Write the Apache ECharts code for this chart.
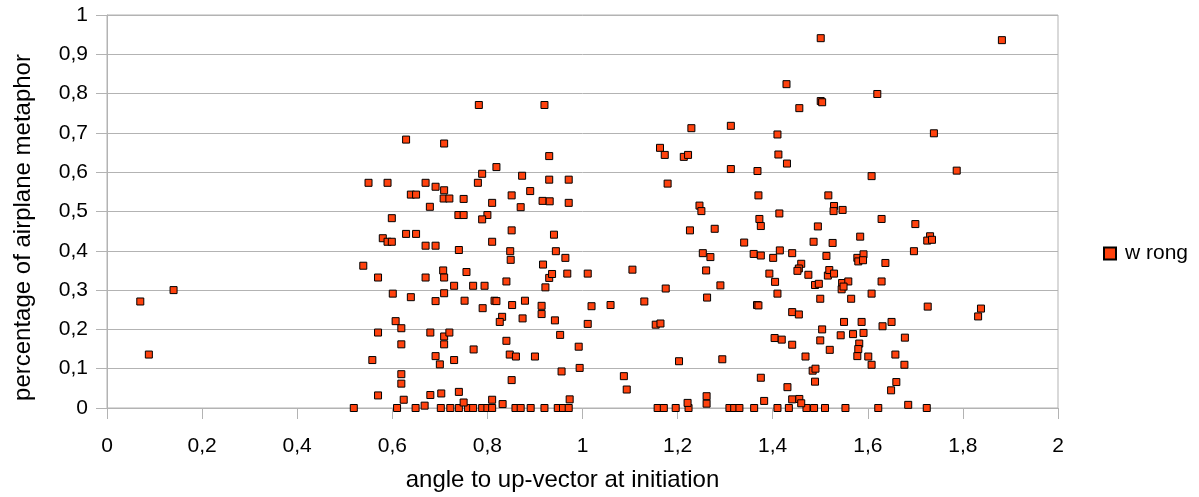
<!DOCTYPE html>
<html>
<head>
<meta charset="utf-8">
<script src="https://cdn.jsdelivr.net/npm/echarts@6/dist/echarts.min.js"></script>
<style>
  html, body { margin: 0; padding: 0; background: #ffffff; }
  #chart { width: 1199px; height: 497px; }
</style>
</head>
<body>
<div id="chart"></div>
<script>
// Angle to up-vector at initiation (x) vs. percentage of airplane metaphor (y)

// Ticks of both axes
const xTicks = [0, 0.2, 0.4, 0.6, 0.8, 1, 1.2, 1.4, 1.6, 1.8, 2];
const yTicks = [0, 0.1, 0.2, 0.3, 0.4, 0.5, 0.6, 0.7, 0.8, 0.9, 1];

const seriesName = 'w rong';

// Isolated trials with a small angle
const smallAngle = [
  [0.070, 0.271], [0.088, 0.136], [0.140, 0.300]
];

// Angles of the trials where the metaphor share was zero
const zeroShareAngles = [
  0.519, 0.610, 0.649, 0.702, 0.722, 0.740, 0.759, 0.770, 0.789, 0.800, 0.810,
  0.859, 0.870, 0.891, 0.920, 0.948, 0.959, 0.971, 1.158, 1.171, 1.196, 1.223,
  1.309, 1.319, 1.330, 1.361, 1.410, 1.434, 1.471, 1.487, 1.510, 1.553, 1.622, 1.724
];

// Trials with angles between 0.5 and 1.15
const midAngle = [
  [0.782, 0.771], [0.629, 0.683], [0.709, 0.673], [0.819, 0.613], [0.789, 0.596],
  [0.780, 0.573], [0.550, 0.573], [0.590, 0.573], [0.670, 0.573], [0.691, 0.563],
  [0.709, 0.554], [0.639, 0.543], [0.650, 0.543], [0.708, 0.533], [0.720, 0.533],
  [0.750, 0.532], [0.810, 0.522], [0.679, 0.512], [0.599, 0.483], [0.739, 0.491],
  [0.750, 0.491], [0.800, 0.491], [0.789, 0.480], [0.580, 0.432], [0.590, 0.423],
  [0.599, 0.423], [0.629, 0.443], [0.650, 0.443], [0.670, 0.413], [0.691, 0.413],
  [0.740, 0.402], [0.810, 0.423], [0.539, 0.362], [0.570, 0.332], [0.670, 0.332],
  [0.707, 0.350], [0.709, 0.332], [0.756, 0.346], [0.730, 0.311], [0.770, 0.311],
  [0.794, 0.311], [0.840, 0.322], [0.601, 0.291], [0.639, 0.282], [0.691, 0.272],
  [0.709, 0.292], [0.752, 0.273], [0.790, 0.254], [0.815, 0.273], [0.819, 0.272],
  [0.831, 0.232], [0.826, 0.219], [0.607, 0.221], [0.619, 0.203], [0.570, 0.192],
  [0.680, 0.192], [0.709, 0.182], [0.720, 0.192], [0.709, 0.162], [0.619, 0.162],
  [0.771, 0.149], [0.840, 0.171], [0.558, 0.122], [0.691, 0.132], [0.700, 0.111],
  [0.730, 0.122], [0.619, 0.086], [0.619, 0.062], [0.570, 0.032], [0.624, 0.021],
  [0.680, 0.033], [0.703, 0.037], [0.740, 0.041], [0.750, 0.014], [0.810, 0.021],
  [0.832, 0.010], [0.668, 0.006],
  [0.920, 0.771], [0.930, 0.641], [0.873, 0.591], [0.930, 0.581], [0.971, 0.581],
  [0.851, 0.541], [0.890, 0.552], [0.916, 0.527], [0.931, 0.526], [0.971, 0.522],
  [0.870, 0.511], [0.851, 0.452], [0.940, 0.441], [0.848, 0.399], [0.849, 0.377],
  [0.944, 0.399], [0.964, 0.382], [0.917, 0.365], [0.930, 0.331], [0.936, 0.341],
  [0.968, 0.342], [1.011, 0.342], [1.105, 0.352], [0.922, 0.307], [0.852, 0.262],
  [0.879, 0.273], [0.914, 0.260], [0.914, 0.239], [1.019, 0.259], [1.059, 0.262],
  [1.130, 0.271], [0.874, 0.228], [0.942, 0.223], [1.011, 0.214], [0.953, 0.186],
  [0.992, 0.156], [0.847, 0.136], [0.860, 0.131], [0.900, 0.131], [0.956, 0.093],
  [0.994, 0.102], [1.087, 0.081], [1.093, 0.047], [0.851, 0.071], [0.973, 0.022]
];

// Trials with angles above 1.15
const highAngle = [
  [1.163, 0.662], [1.173, 0.644], [1.179, 0.571], [1.175, 0.304], [1.154, 0.212],
  [1.164, 0.215],
  [1.501, 0.941], [1.882, 0.936], [1.429, 0.824], [1.620, 0.799],
  [1.456, 0.763], [1.501, 0.781], [1.504, 0.778], [1.229, 0.712], [1.312, 0.718],
  [1.410, 0.696], [1.213, 0.639], [1.222, 0.644], [1.412, 0.645], [1.430, 0.622],
  [1.312, 0.608], [1.368, 0.603], [1.370, 0.541], [1.517, 0.541], [1.246, 0.515],
  [1.250, 0.501], [1.414, 0.495], [1.372, 0.481], [1.375, 0.463], [1.495, 0.462],
  [1.226, 0.452], [1.278, 0.456], [1.340, 0.421], [1.486, 0.423], [1.253, 0.394],
  [1.269, 0.384], [1.360, 0.392], [1.375, 0.388], [1.401, 0.382], [1.415, 0.401],
  [1.441, 0.394], [1.513, 0.387], [1.260, 0.350], [1.460, 0.367], [1.455, 0.355],
  [1.452, 0.349], [1.393, 0.342], [1.405, 0.321], [1.475, 0.339], [1.489, 0.313],
  [1.497, 0.316], [1.516, 0.337], [1.519, 0.351], [1.290, 0.312], [1.262, 0.281],
  [1.410, 0.291], [1.367, 0.262], [1.370, 0.261], [1.441, 0.244], [1.455, 0.238],
  [1.500, 0.278], [1.504, 0.200], [1.404, 0.178], [1.419, 0.174], [1.441, 0.161],
  [1.500, 0.172], [1.520, 0.148], [1.203, 0.119], [1.294, 0.124], [1.469, 0.131],
  [1.484, 0.095], [1.490, 0.100], [1.375, 0.077], [1.489, 0.067], [1.431, 0.053],
  [1.261, 0.030], [1.261, 0.011], [1.221, 0.013], [1.382, 0.018], [1.441, 0.022],
  [1.456, 0.023], [1.460, 0.012],
  [1.739, 0.699], [1.608, 0.590], [1.787, 0.604], [1.529, 0.514], [1.528, 0.501],
  [1.547, 0.504], [1.629, 0.481], [1.700, 0.468], [1.584, 0.436], [1.526, 0.420],
  [1.731, 0.437], [1.725, 0.426], [1.735, 0.428], [1.697, 0.399], [1.578, 0.382],
  [1.580, 0.373], [1.591, 0.391], [1.590, 0.376], [1.637, 0.369], [1.529, 0.342],
  [1.546, 0.318], [1.559, 0.322], [1.545, 0.302], [1.549, 0.309], [1.629, 0.322],
  [1.608, 0.291], [1.565, 0.278], [1.726, 0.258], [1.838, 0.253], [1.832, 0.233],
  [1.550, 0.219], [1.587, 0.219], [1.631, 0.208], [1.650, 0.219], [1.543, 0.185],
  [1.569, 0.188], [1.591, 0.191], [1.678, 0.179], [1.582, 0.164], [1.580, 0.150],
  [1.578, 0.132], [1.601, 0.131], [1.608, 0.110], [1.658, 0.136], [1.677, 0.110],
  [1.660, 0.066], [1.649, 0.045], [1.685, 0.008]
];

const points = []
  .concat(smallAngle)
  .concat(zeroShareAngles.map(a => [a, 0]))
  .concat(midAngle)
  .concat(highAngle);

const FONT = '"Liberation Sans", Arial, sans-serif';
const GRAY = '#b3b3b3';
const decimalComma = v => String(+(+v).toFixed(2)).replace('.', ',');

const chart = echarts.init(document.getElementById('chart'), null, { renderer: 'canvas' });

chart.setOption({
  animation: false,
  backgroundColor: '#ffffff',
  textStyle: { fontFamily: FONT },
  grid: {
    left: 107, right: 141, top: 15, bottom: 87,
    show: true, borderColor: GRAY, borderWidth: 1, backgroundColor: 'transparent'
  },
  legend: {
    data: [seriesName],
    orient: 'vertical',
    left: 1098, top: 238,
    icon: 'rect',
    itemWidth: 12, itemHeight: 12,
    textStyle: { fontFamily: FONT, fontSize: 21, color: '#000', padding: [0, 0, 0, 4] }
  },
  xAxis: {
    type: 'value',
    min: xTicks[0], max: xTicks[xTicks.length - 1], interval: xTicks[1] - xTicks[0],
    name: 'angle to up-vector at initiation',
    nameLocation: 'middle', nameGap: 60,
    nameTextStyle: { fontFamily: FONT, fontSize: 24, color: '#000', padding: [0, 40, 0, 0] },
    axisLine: { show: true, lineStyle: { color: GRAY, width: 1 } },
    axisTick: { show: true, length: 11, lineStyle: { color: GRAY } },
    axisLabel: { fontFamily: FONT, fontSize: 21, color: '#000', margin: 28, formatter: decimalComma },
    splitLine: { show: false }
  },
  yAxis: {
    type: 'value',
    min: yTicks[0], max: yTicks[yTicks.length - 1], interval: yTicks[1] - yTicks[0],
    name: 'percentage of airplane metaphor',
    nameLocation: 'middle', nameGap: 72, nameRotate: 90,
    nameTextStyle: { fontFamily: FONT, fontSize: 24, color: '#000', padding: [0, 32, 0, 0] },
    axisLine: { show: true, lineStyle: { color: GRAY, width: 1 } },
    axisTick: { show: true, length: 11, lineStyle: { color: GRAY } },
    axisLabel: { fontFamily: FONT, fontSize: 21, color: '#000', margin: 19, formatter: decimalComma },
    splitLine: { show: true, lineStyle: { color: GRAY, width: 1 } }
  },
  series: [{
    name: seriesName,
    type: 'scatter',
    symbol: 'rect',
    symbolSize: 7,
    data: points,
    itemStyle: { color: '#ff420e', borderColor: '#000000', borderWidth: 1, opacity: 1 }
  }]
});
</script>
</body>
</html>
